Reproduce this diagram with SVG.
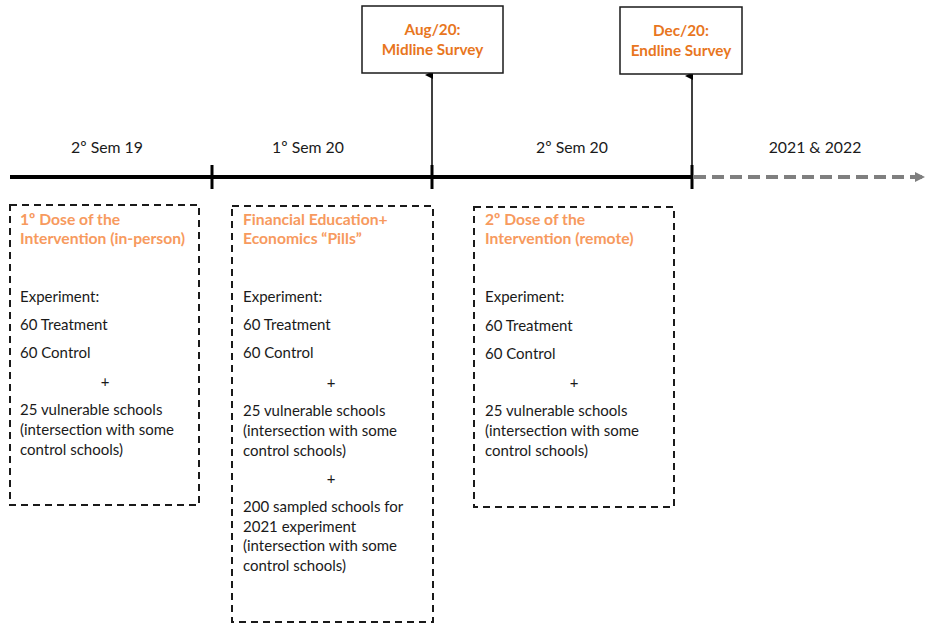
<svg xmlns="http://www.w3.org/2000/svg" width="926" height="624" viewBox="0 0 926 624">
<defs>
<style>
text{font-family:Lato,"Open Sans",sans-serif;font-size:15px;fill:#1a1a1a}
.t{font-weight:bold;fill:#F79A5E;font-size:15.7px}
.s{font-weight:bold;fill:#E8761E;text-anchor:middle;font-size:15.3px}
.c{text-anchor:middle}
.l{font-size:15.8px}
.box{fill:none;stroke:#1a1a1a;stroke-width:2;stroke-dasharray:7 5}
.sb{fill:#fff;stroke:#1a1a1a;stroke-width:1.5}
</style>
<marker id="ah" markerWidth="8" markerHeight="8" refX="4" refY="7" orient="auto" markerUnits="userSpaceOnUse"><path d="M0,8 L4,0 L8,8 Z" fill="#000"/></marker>
<marker id="gh" markerWidth="10" markerHeight="10" refX="9" refY="5" orient="auto" markerUnits="userSpaceOnUse"><path d="M0,0 L10,5 L0,10 Z" fill="#7F7F7F"/></marker>
</defs>
<g id="connectors">
<line x1="10" y1="177" x2="692" y2="177" stroke="#000" stroke-width="4"/>
<line x1="694" y1="177" x2="924" y2="177" stroke="#7F7F7F" stroke-width="4" stroke-dasharray="12 6" marker-end="url(#gh)"/>
<line x1="212" y1="165" x2="212" y2="189" stroke="#000" stroke-width="3"/>
<line x1="432" y1="165" x2="432" y2="189" stroke="#000" stroke-width="3"/>
<line x1="692" y1="165" x2="692" y2="189" stroke="#000" stroke-width="3"/>
<line x1="432" y1="177" x2="432" y2="75" stroke="#000" stroke-width="1.5" marker-end="url(#ah)"/>
<line x1="692" y1="177" x2="692" y2="76" stroke="#000" stroke-width="1.5" marker-end="url(#ah)"/>
</g>
<g id="labels">
<text class="c l" x="107" y="153">2º Sem 19</text>
<text class="c l" x="308" y="153">1º Sem 20</text>
<text class="c l" x="572" y="153">2º Sem 20</text>
<text class="c l" x="815" y="153">2021 &amp; 2022</text>
</g>
<g id="midline">
<rect class="sb" x="362" y="6" width="141" height="67"/>
<text class="s" x="432.5" y="35">Aug/20:</text>
<text class="s" x="432.5" y="55">Midline Survey</text>
</g>
<g id="endline">
<rect class="sb" x="620" y="7" width="122" height="67"/>
<text class="s" x="681" y="36">Dec/20:</text>
<text class="s" x="681" y="56">Endline Survey</text>
</g>
<g id="dose1">
<rect class="box" x="10" y="205" width="189" height="300"/>
<text class="t" x="20" y="225">1º Dose of the</text>
<text class="t" x="20" y="244">Intervention (in-person)</text>
<text x="20" y="302">Experiment:</text>
<text x="20" y="330">60 Treatment</text>
<text x="20" y="358">60 Control</text>
<text class="c" x="105" y="387">+</text>
<text x="20" y="415">25 vulnerable schools</text>
<text x="20" y="435">(intersection with some</text>
<text x="20" y="455">control schools)</text>
</g>
<g id="pills">
<rect class="box" x="232" y="206" width="201" height="416"/>
<text class="t" x="243" y="225">Financial Education+</text>
<text class="t" x="243" y="244">Economics “Pills”</text>
<text x="243" y="302">Experiment:</text>
<text x="243" y="330">60 Treatment</text>
<text x="243" y="358">60 Control</text>
<text class="c" x="331" y="388">+</text>
<text x="243" y="416">25 vulnerable schools</text>
<text x="243" y="436">(intersection with some</text>
<text x="243" y="456">control schools)</text>
<text class="c" x="331" y="484">+</text>
<text x="243" y="512">200 sampled schools for</text>
<text x="243" y="532">2021 experiment</text>
<text x="243" y="551">(intersection with some</text>
<text x="243" y="571">control schools)</text>
</g>
<g id="dose2">
<rect class="box" x="474" y="207" width="200" height="300"/>
<text class="t" x="485" y="225">2º Dose of the</text>
<text class="t" x="485" y="244">Intervention (remote)</text>
<text x="485" y="302">Experiment:</text>
<text x="485" y="331">60 Treatment</text>
<text x="485" y="359">60 Control</text>
<text class="c" x="574" y="388">+</text>
<text x="485" y="416">25 vulnerable schools</text>
<text x="485" y="436">(intersection with some</text>
<text x="485" y="456">control schools)</text>
</g>
</svg>
